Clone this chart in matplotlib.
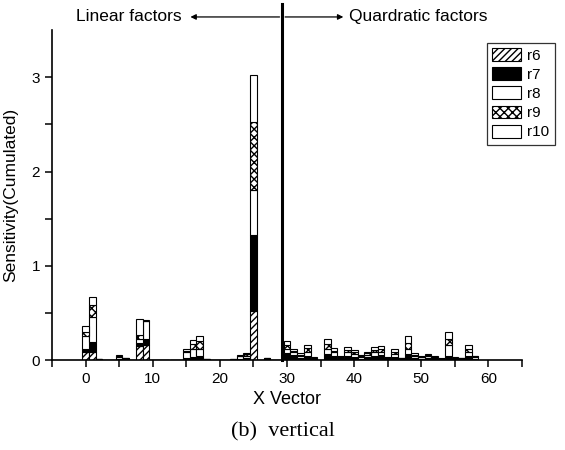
import matplotlib
matplotlib.use("Agg")
import matplotlib.pyplot as plt
import numpy as np

plt.rcParams['font.family'] = ['Liberation Sans', 'DejaVu Sans']

# x vector index 0..58
x_idx = np.arange(59)
# per-component sensitivity (stacked): r6, r7, r8, r9, r10
r6 = [0.08, 0.08, 0, 0, 0, 0, 0, 0, 0.15, 0.16,
      0, 0, 0, 0, 0, 0, 0, 0, 0, 0,
      0, 0, 0, 0, 0.01, 0.52, 0, 0, 0, 0,
      0.01, 0.01, 0, 0.01, 0, 0, 0.01, 0.01, 0, 0,
      0, 0, 0, 0.01, 0.01, 0, 0, 0, 0.01, 0,
      0, 0, 0, 0, 0.01, 0, 0, 0.01, 0]
r7 = [0.04, 0.11, 0.01, 0, 0.005, 0.01, 0.01, 0, 0.03, 0.06,
      0.005, 0, 0, 0, 0.005, 0.02, 0.03, 0.04, 0.01, 0,
      0, 0, 0.005, 0.01, 0.01, 0.81, 0.005, 0.01, 0.005, 0,
      0.06, 0.04, 0.02, 0.03, 0.01, 0.005, 0.05, 0.03, 0.01, 0.04,
      0.03, 0.01, 0.03, 0.03, 0.04, 0.01, 0.03, 0.01, 0.05, 0.02,
      0.01, 0.02, 0.01, 0.005, 0.03, 0.01, 0.01, 0.03, 0.01]
r8 = [0.13, 0.27, 0.005, 0, 0, 0.02, 0.01, 0, 0.04, 0.19,
      0, 0, 0, 0, 0, 0.07, 0.09, 0.08, 0, 0,
      0, 0, 0.01, 0.03, 0.02, 0.47, 0, 0.01, 0, 0,
      0.05, 0.03, 0.02, 0.05, 0.01, 0, 0.06, 0.04, 0.01, 0.04,
      0.03, 0.02, 0.02, 0.04, 0.04, 0.01, 0.03, 0.01, 0.06, 0.02,
      0.02, 0.02, 0.01, 0.01, 0.12, 0.01, 0.01, 0.04, 0.02]
r9 = [0.05, 0.12, 0, 0, 0, 0.01, 0, 0, 0.04, 0,
      0, 0, 0, 0, 0, 0.01, 0.05, 0.08, 0, 0,
      0, 0, 0, 0, 0.02, 0.73, 0, 0, 0, 0,
      0.04, 0.02, 0.01, 0.04, 0, 0, 0.05, 0.02, 0.01, 0.03,
      0.02, 0.01, 0.02, 0.03, 0.03, 0, 0.03, 0, 0.06, 0.01,
      0, 0.01, 0.01, 0, 0.06, 0, 0, 0.04, 0.01]
r10 = [0.06, 0.09, 0, 0, 0, 0.01, 0, 0, 0.17, 0.01,
       0, 0, 0, 0, 0, 0.02, 0.04, 0.05, 0, 0,
       0, 0, 0, 0.01, 0.01, 0.49, 0, 0, 0, 0,
       0.04, 0.02, 0.02, 0.03, 0.01, 0, 0.05, 0.03, 0.01, 0.03,
       0.03, 0.01, 0.02, 0.03, 0.03, 0.01, 0.03, 0, 0.07, 0.02,
       0.01, 0.01, 0.01, 0.005, 0.08, 0.01, 0, 0.04, 0]

series = [r6, r7, r8, r9, r10]
names = ['r6', 'r7', 'r8', 'r9', 'r10']
fills = ['white', 'black', 'white', 'white', 'white']
hatches = ['/////', None, None, 'xxxx', None]

fig = plt.figure(figsize=(5.65, 4.5), dpi=100)
ax = fig.add_axes([0.092, 0.2, 0.832, 0.733])

bottom = np.zeros(len(x_idx))
for vals, nm, fc, h in zip(series, names, fills, hatches):
    ax.bar(x_idx, vals, width=1.0, bottom=bottom, color=fc, edgecolor='black',
           linewidth=0.8, hatch=h, label=nm)
    bottom += np.array(vals)

ax.set_xlim(-5, 65)
ax.set_ylim(0, 3.5)
ax.spines['top'].set_visible(False)
ax.spines['right'].set_visible(False)
ax.spines['left'].set_linewidth(1.2)
ax.spines['bottom'].set_linewidth(1.2)
ax.set_xticks(np.arange(0, 61, 10))
ax.set_xticks(np.arange(-5, 66, 5), minor=True)
ax.set_yticks([0, 1, 2, 3])
ax.set_yticks(np.arange(0.5, 3.5, 1.0), minor=True)
ax.tick_params(which='both', direction='out', length=5, width=1.1, labelsize=11)
ax.set_xlabel('X Vector', fontsize=13)
ax.set_ylabel('Sensitivity(Cumulated)', fontsize=12.5, labelpad=10)

# separator between linear and quadratic factors
ax.plot([29.3, 29.3], [0, 3.78], color='black', lw=2.2, clip_on=False)
ax.annotate('', xy=(15.2, 3.64), xytext=(29.3, 3.64),
            arrowprops=dict(arrowstyle='-|>', color='black', lw=0.9, mutation_scale=8),
            annotation_clip=False)
ax.annotate('', xy=(38.8, 3.64), xytext=(29.3, 3.64),
            arrowprops=dict(arrowstyle='-|>', color='black', lw=0.9, mutation_scale=8),
            annotation_clip=False)
ax.text(14.3, 3.64, 'Linear factors', ha='right', va='center', fontsize=12.5,
        clip_on=False)
ax.text(39.3, 3.64, 'Quardratic factors', ha='left', va='center', fontsize=12.5,
        clip_on=False)

leg = ax.legend(loc='upper right', bbox_to_anchor=(0.982, 0.905),
                bbox_transform=fig.transFigure, fontsize=11, frameon=True,
                fancybox=False, edgecolor='black', handlelength=1.9,
                handleheight=0.9, labelspacing=0.3, borderpad=0.35,
                handletextpad=0.4, borderaxespad=0)
leg.get_frame().set_linewidth(0.9)

fig.text(0.5, 0.04, '(b)  vertical', ha='center', va='center', fontsize=16,
         family=['Liberation Serif', 'DejaVu Serif'])

fig.savefig('out.png', dpi=100)
